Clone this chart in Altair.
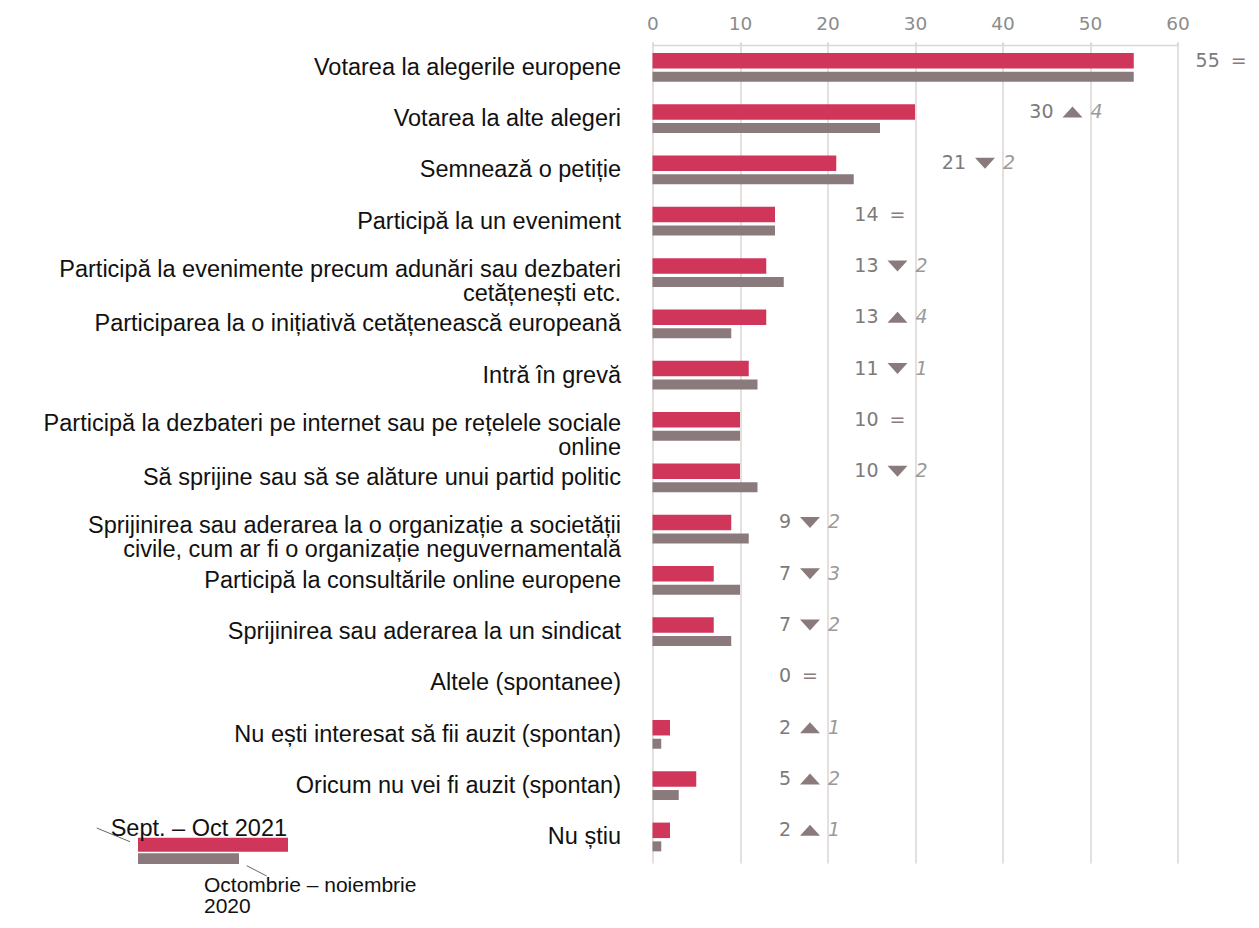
import altair as alt
import pandas as pd

NB = "\u00a0"

# Category labels ("|" marks a line break in the label)
categories = [
    "Votarea la alegerile europene",
    "Votarea la alte alegeri" + NB * 4,
    "Semnează o petiție",
    "Participă la un eveniment",
    "Participă la evenimente precum adunări sau dezbateri|cetățenești etc.",
    "Participarea la o inițiativă cetățenească europeană",
    "Intră în grevă",
    "Participă la dezbateri pe internet sau pe rețelele sociale|online",
    "Să sprijine sau să se alăture unui partid politic",
    "Sprijinirea sau aderarea la o organizație a societății|civile, cum ar fi o organizație neguvernamentală",
    "Participă la consultările online europene",
    "Sprijinirea sau aderarea la un sindicat",
    "Altele (spontanee)",
    "Nu ești interesat să fii auzit (spontan)",
    "Oricum nu vei fi auzit (spontan)",
    "Nu știu",
]

# Sept. - Oct 2021
values_2021 = [55, 30, 21, 14, 13, 13, 11, 10, 10, 9, 7, 7, 0, 2, 5, 2]
# Octombrie - noiembrie 2020
values_2020 = [55, 26, 23, 14, 15, 9, 12, 10, 12, 11, 10, 9, 0, 1, 3, 1]
# x position (in axis units) where the change annotation is centred
note_anchor = [67, 48, 38, 28, 28, 28, 28, 28, 28, 18, 18, 18, 18, 18, 18, 18]

legend_2021 = "Sept. – Oct 2021"
legend_2020_lines = ["Octombrie – noiembrie", "2020"]
x_ticks = [0, 10, 20, 30, 40, 50, 60]

RED = "#d0365a"
GREY = "#8a7a7c"
GRID = "#dcd6d3"
LABEL_FONT = "Liberation Sans"
NUM_FONT = "DejaVu Sans"

rows = []
for c, a, b, n in zip(categories, values_2021, values_2020, note_anchor):
    parts = c.split("|")
    d = a - b
    rows.append({
        "cat": c,
        "line1": parts[0],
        "line2": parts[1] if len(parts) > 1 else "",
        "nlines": len(parts),
        "v21": a,
        "v20": b,
        "absdiff": abs(d),
        "dir": "up" if d > 0 else ("down" if d < 0 else "same"),
        "anchor": n,
    })
df = pd.DataFrame(rows)

W, H = 525, 821

y_enc = alt.Y("cat:N", sort=categories, axis=None,
              scale=alt.Scale(paddingInner=0, paddingOuter=0))
x_scale = alt.Scale(domain=[0, 60], nice=False)

base = alt.Chart(df)

grey_bars = base.mark_bar(color=GREY, size=10, yOffset=9).encode(
    x=alt.X("v20:Q", scale=x_scale,
            axis=alt.Axis(orient="top", values=x_ticks, grid=True, gridColor=GRID,
                          gridWidth=1.5, domainColor=GRID, domainWidth=1.5,
                          tickColor=GRID, tickWidth=1.5, tickSize=3, offset=-3,
                          labelFont=NUM_FONT, labelFontSize=18.5, labelColor="#8c8c8c",
                          labelPadding=9, labelFlush=False, title=None)),
    y=y_enc,
)
red_bars = base.mark_bar(color=RED, size=15.5, yOffset=-7).encode(
    x=alt.X("v21:Q", scale=x_scale),
    y=y_enc,
)

lab_kw = dict(align="right", baseline="middle", font=LABEL_FONT, fontSize=23.5, color="#111111")
labels_single = base.transform_filter("datum.nlines == 1").mark_text(**lab_kw).encode(
    y=y_enc, x=alt.value(-31.5), text="line1:N")
labels_first = base.transform_filter("datum.nlines == 2").mark_text(dy=-3, **lab_kw).encode(
    y=y_enc, x=alt.value(-31.5), text="line1:N")
labels_second = base.transform_filter("datum.nlines == 2").mark_text(dy=21, **lab_kw).encode(
    y=y_enc, x=alt.value(-31.5), text="line2:N")

numbers = base.mark_text(align="right", baseline="middle", dx=-19, dy=-7,
                         font=NUM_FONT, fontSize=19, color="#7b7b7b").encode(
    x=alt.X("anchor:Q", scale=x_scale), y=y_enc, text="v21:Q")

tri_up = "M-1,0.55L1,0.55L0,-0.55Z"
tri_down = "M-1,-0.55L1,-0.55L0,0.55Z"
symbols = base.transform_filter("datum.dir != 'same'").mark_point(
    filled=True, size=400, yOffset=-7, color=GREY, opacity=1).encode(
    x=alt.X("anchor:Q", scale=x_scale), y=y_enc,
    shape=alt.Shape("dir:N", scale=alt.Scale(domain=["up", "down"], range=[tri_up, tri_down]),
                    legend=None))
equals = base.transform_filter("datum.dir == 'same'").mark_text(
    align="center", baseline="middle", dy=-7, font=NUM_FONT, fontSize=19, color=GREY,
    text="=").encode(x=alt.X("anchor:Q", scale=x_scale), y=y_enc)
changes = base.transform_filter("datum.dir != 'same'").mark_text(
    align="left", baseline="middle", dx=18, dy=-7, font=NUM_FONT, fontSize=19,
    fontStyle="italic", color="#9a9a9a").encode(
    x=alt.X("anchor:Q", scale=x_scale), y=y_enc, text="absdiff:Q")

# Legend (bottom left)
one = alt.Chart(pd.DataFrame({"k": [0]}))
leg_red = one.mark_rect(color=RED).encode(
    x=alt.value(-514.5), x2=alt.value(-364.5), y=alt.value(795.7), y2=alt.value(809.7))
leg_grey = one.mark_rect(color=GREY).encode(
    x=alt.value(-514.5), x2=alt.value(-413.5), y=alt.value(811.3), y2=alt.value(822))
leg_line1 = one.mark_rule(color="#666666", strokeWidth=1).encode(
    x=alt.value(-555.8), x2=alt.value(-522.5), y=alt.value(786), y2=alt.value(799.7))
leg_line2 = one.mark_rule(color="#666666", strokeWidth=1).encode(
    x=alt.value(-405.8), x2=alt.value(-385.8), y=alt.value(823.7), y2=alt.value(834))
leg_kw = dict(align="left", baseline="middle", font=LABEL_FONT, fontSize=23.5, color="#111111")
leg_t1 = one.mark_text(text=legend_2021, **leg_kw).encode(
    x=alt.value(-541.8), y=alt.value(787))
leg2_kw = dict(leg_kw, fontSize=21)
leg_t2 = one.mark_text(text=legend_2020_lines[0], **leg2_kw).encode(
    x=alt.value(-448.5), y=alt.value(844))
leg_t3 = one.mark_text(text=legend_2020_lines[1], **leg2_kw).encode(
    x=alt.value(-448.5), y=alt.value(865))

chart = alt.layer(
    grey_bars, red_bars, labels_single, labels_first, labels_second,
    numbers, symbols, equals, changes,
    leg_red, leg_grey, leg_line1, leg_line2, leg_t1, leg_t2, leg_t3,
).properties(
    width=W, height=H,
    autosize=alt.AutoSizeParams(type="none"),
    padding={"left": 644.5, "top": 34, "right": 73.5, "bottom": 57},
).configure(background="white").configure_view(stroke=None)

chart.save("out.html", embed_options={"renderer": "svg", "actions": False})
